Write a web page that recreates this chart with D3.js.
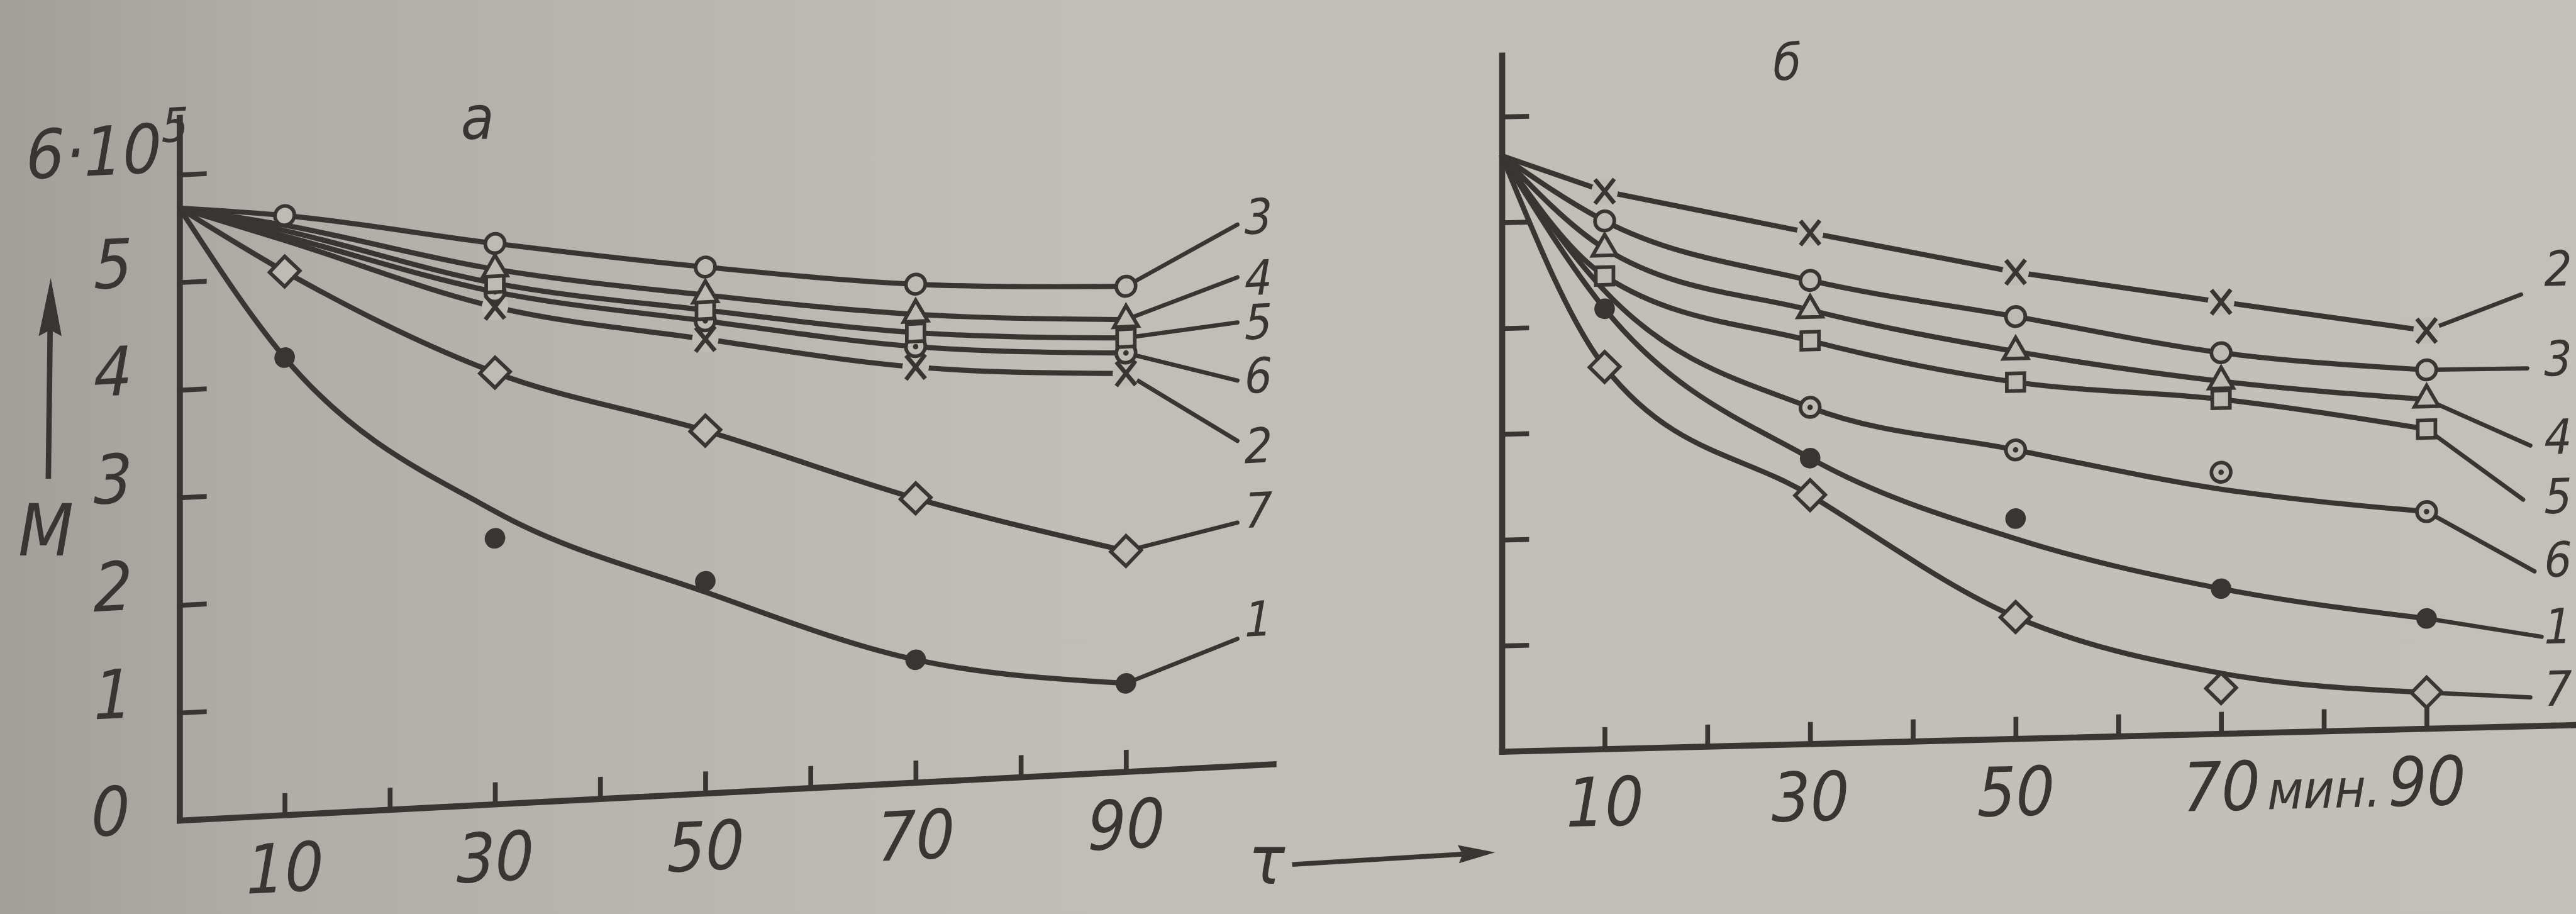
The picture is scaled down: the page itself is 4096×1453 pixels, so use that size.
<!DOCTYPE html>
<html>
<head>
<meta charset="utf-8">
<script src="https://cdn.jsdelivr.net/npm/d3@7"></script>
<style>
  html, body { margin: 0; padding: 0; background: #bbb8b2; }
  svg { display: block; }
  .lbl { font-family: "Liberation Sans Narrow", "DejaVu Sans Condensed", "DejaVu Sans", sans-serif; font-style: italic; font-size: 112px; }
  .cl { font-family: "Liberation Sans Narrow", "DejaVu Sans Condensed", "DejaVu Sans", sans-serif; font-style: italic; font-size: 80px; }
</style>
</head>
<body>
<svg id="chart" width="4096" height="1453"></svg>
<script>
// time of sampling, min
const times = [0, 10, 30, 50, 70, 90];
const t10 = [10, 30, 50, 70, 90];
const t30 = [30, 50, 70, 90];
const xTicks = [10, 20, 30, 40, 50, 60, 70, 80, 90];
const xTickLabelsA = ['10', '', '30', '', '50', '', '70', '', '90'];
const xTickLabelsB = ['10', '', '30', '', '50', '', '70', 'мин.', '90'];
const yTicks = [1, 2, 3, 4, 5, 6];
const yTickLabels = ['1', '2', '3', '4', '5', ''];

// panel а : M, units of 10^5 (curve read at times)
const a1 = [5.69, 4.25, 2.72, 1.87, 1.14, 0.82];
const a1Pts = [4.25, 2.47, 1.97, 1.14, 0.82];
const a2 = [5.69, 5.34, 4.62, 4.22, 3.86, 3.70];
const a3 = [5.69, 5.57, 5.21, 4.89, 4.63, 4.51];
const a4 = [5.69, 5.48, 4.97, 4.63, 4.35, 4.20];
const a5 = [5.69, 5.43, 4.84, 4.49, 4.18, 4.03];
const a6 = [5.69, 5.38, 4.76, 4.39, 4.05, 3.89];
const a7 = [5.69, 5.05, 4.01, 3.37, 2.64, 2.05];

// panel б
const b1 = [5.63, 4.16, 2.70, 1.89, 1.37, 1.04];
const b1Pts = [4.16, 2.70, 2.08, 1.37, 1.04];
const b2 = [5.63, 5.27, 4.83, 4.41, 4.08, 3.76];
const b3 = [5.63, 4.99, 4.38, 3.99, 3.60, 3.39];
const b4 = [5.63, 4.73, 4.10, 3.66, 3.33, 3.11];
const b5 = [5.63, 4.47, 3.81, 3.37, 3.16, 2.83];
const b6 = [5.63, 4.33, 3.18, 2.73, 2.31, 2.05];
const b6Pts = [3.18, 2.73, 2.47, 2.05];
const b7 = [5.63, 3.61, 2.35, 1.15, 0.57, 0.34];
const b7Pts = [3.61, 2.35, 1.15, 0.43, 0.34];

// curve number labels: leader end [t, M] and label [t, M]
const aNames = ['3', '4', '5', '6', '2', '7', '1'];
const aLeadEnd = [[100.6, 5.03], [100.6, 4.54], [100.6, 4.12], [100.6, 3.58], [100.6, 3.02], [100.6, 2.26], [100.6, 1.18]];
const aLabelAt = [[102.6, 5.10], [102.6, 4.53], [102.6, 4.12], [102.6, 3.62], [102.6, 2.97], [102.6, 2.37], [102.6, 1.36]];
const bNames = ['2', '3', '4', '5', '6', '1', '7'];
const bLeadEnd = [[99.2, 4.08], [99.8, 3.38], [100.1, 2.65], [99.4, 2.14], [100.5, 1.46], [101.2, 0.84], [100.1, 0.27]];
const bLabelAt = [[102.8, 4.32], [102.8, 3.47], [102.8, 2.73], [102.8, 2.17], [102.8, 1.57], [102.8, 0.94], [102.8, 0.35]];

const ink = '#383633';
const paper = '#bebbb5';

const svg = d3.select('#chart');
const grad = svg.append('defs').append('linearGradient').attr('id', 'paper')
  .attr('x1', 0).attr('x2', 1).attr('y1', 0).attr('y2', 0);
[[0, '#a19f9a'], [0.1, '#b0ada8'], [0.4, '#c1beb8'], [1, '#c3c0ba']]
  .forEach(s => grad.append('stop').attr('offset', s[0]).attr('stop-color', s[1]));
svg.append('rect').attr('width', 4096).attr('height', 1453).attr('fill', 'url(#paper)');

const root = svg.append('g').attr('transform', 'scale(0.961)');

const marks = {
  dot: g => g.append('circle').attr('r', 17).attr('fill', ink),
  circle: g => g.append('circle').attr('r', 16).attr('fill', paper).attr('stroke', ink).attr('stroke-width', 6),
  cdot: g => {
    g.append('circle').attr('r', 16).attr('fill', paper).attr('stroke', ink).attr('stroke-width', 6);
    g.append('circle').attr('r', 4.5).attr('fill', ink);
  },
  triangle: g => g.append('path').attr('d', d3.symbol(d3.symbolTriangle, 700)())
    .attr('fill', paper).attr('stroke', ink).attr('stroke-width', 6),
  square: g => g.append('path').attr('d', d3.symbol(d3.symbolSquare, 850)())
    .attr('fill', paper).attr('stroke', ink).attr('stroke-width', 6),
  diamond: g => g.append('path').attr('d', d3.symbol(d3.symbolSquare, 1250)()).attr('transform', 'rotate(45)')
    .attr('fill', paper).attr('stroke', ink).attr('stroke-width', 6),
  cross: g => {
    g.append('circle').attr('r', 22).attr('fill', paper);
    g.append('path').attr('d', 'M-16,-20L16,20M16,-20L-16,20').attr('stroke', ink).attr('stroke-width', 7).attr('fill', 'none');
  }
};

function drawPanel(p) {
  const x = d3.scaleLinear().domain([0, p.tEnd]).range([0, p.tEnd * p.pxMin]);
  const y = d3.scaleLinear().domain([0, p.mTop]).range([0, -p.mTop * p.pxUnit]);
  const g = root.append('g')
    .attr('transform', `translate(${p.x0},${p.y0}) matrix(1,${p.k},0,1,0,0)`);

  const xAxis = g.append('g').call(d3.axisBottom(x).tickValues(xTicks)
    .tickSizeInner(-36).tickSizeOuter(0).tickFormat((d, i) => p.xLabels[i]));
  const yAxis = g.append('g').call(d3.axisLeft(y).tickValues(yTicks)
    .tickSizeInner(-45).tickSizeOuter(0).tickFormat((d, i) => p.yLabels ? yTickLabels[i] : ''));
  [xAxis, yAxis].forEach(a => {
    a.attr('color', ink);
    a.select('.domain').attr('stroke-width', 10).attr('stroke-linecap', 'square');
    a.selectAll('.tick line').attr('stroke-width', 8);
    a.selectAll('.tick text').attr('class', 'lbl');
  });
  xAxis.selectAll('.tick text').attr('y', 127).attr('dy', null)
    .filter(d => d === 80).style('font-size', '88px');
  yAxis.selectAll('.tick text').attr('x', -110).attr('dy', 3).attr('text-anchor', 'middle');

  const line = d3.line().x((d, i) => x(times[i])).y(d => y(d));

  p.series.forEach(s => {
    g.append('path').datum(s.line)
      .attr('d', line.curve(s.straight ? d3.curveLinear : d3.curveMonotoneX))
      .attr('fill', 'none').attr('stroke', ink).attr('stroke-width', 8.5).attr('stroke-linecap', 'round');
  });

  // leaders to curve numbers
  p.series.forEach(s => {
    const i = p.names.indexOf(s.id);
    const last = s.line[s.line.length - 1];
    g.append('line')
      .attr('x1', x(90)).attr('y1', y(last))
      .attr('x2', x(p.leadEnd[i][0])).attr('y2', y(p.leadEnd[i][1]))
      .attr('stroke', ink).attr('stroke-width', 7).attr('stroke-linecap', 'round');
    g.append('text').attr('class', 'cl').attr('fill', ink).attr('text-anchor', 'middle')
      .attr('x', x(p.labelAt[i][0])).attr('y', y(p.labelAt[i][1])).attr('dy', '0.36em')
      .text(s.id);
  });

  p.series.forEach(s => {
    s.markT.forEach((t, j) => {
      const m = s.markM ? s.markM[j] : s.line[times.indexOf(t)];
      const mg = g.append('g').attr('transform', `translate(${x(t)},${y(m)})`);
      marks[s.mark](mg);
    });
  });
  return { g, x, y };
}

const pa = drawPanel({
  x0: 297, y0: 1357, pxMin: 17.4, pxUnit: 178, k: -0.0515, tEnd: 104, mTop: 6.53,
  xLabels: xTickLabelsA, yLabels: true,
  names: aNames, leadEnd: aLeadEnd, labelAt: aLabelAt,
  series: [
    { id: '1', line: a1, markT: t10, markM: a1Pts, mark: 'dot' },
    { id: '7', line: a7, markT: t10, mark: 'diamond' },
    { id: '2', line: a2, markT: t30, mark: 'cross' },
    { id: '6', line: a6, markT: t30, mark: 'cdot' },
    { id: '5', line: a5, markT: t30, mark: 'square' },
    { id: '4', line: a4, markT: t30, mark: 'triangle' },
    { id: '3', line: a3, markT: t10, mark: 'circle' }
  ]
});

// "0" and "6·10^5" on the left axis
pa.g.append('text').attr('class', 'lbl').attr('fill', ink).attr('text-anchor', 'middle')
  .attr('x', -114).attr('y', 19).text('0');
const topLabel = pa.g.append('text').attr('class', 'lbl').attr('fill', ink)
  .attr('x', -254).attr('y', pa.y(6) - 6).text('6·10');
topLabel.append('tspan').attr('dy', -49).style('font-size', '78px').text('5');

drawPanel({
  x0: 2485, y0: 1243, pxMin: 17.0, pxUnit: 175, k: -0.0248, tEnd: 104.5, mTop: 6.58,
  xLabels: xTickLabelsB, yLabels: false,
  names: bNames, leadEnd: bLeadEnd, labelAt: bLabelAt,
  series: [
    { id: '7', line: b7, markT: t10, markM: b7Pts, mark: 'diamond' },
    { id: '1', line: b1, markT: t10, markM: b1Pts, mark: 'dot' },
    { id: '6', line: b6, markT: t30, markM: b6Pts, mark: 'cdot' },
    { id: '5', line: b5, markT: t10, mark: 'square' },
    { id: '4', line: b4, markT: t10, mark: 'triangle' },
    { id: '3', line: b3, markT: t10, mark: 'circle' },
    { id: '2', line: b2, markT: t10, mark: 'cross', straight: true }
  ]
});

// panel letters
root.append('text').attr('class', 'lbl').attr('fill', ink).attr('text-anchor', 'middle')
  .style('font-size', '100px').attr('x', 790).attr('y', 230).text('а');
root.append('text').attr('class', 'lbl').attr('fill', ink).attr('text-anchor', 'middle')
  .style('font-size', '84px').attr('x', 2957).attr('y', 132).text('б');

// M with arrow
root.append('line').attr('x1', 80).attr('y1', 792).attr('x2', 83).attr('y2', 540)
  .attr('stroke', ink).attr('stroke-width', 9);
root.append('path').attr('d', 'M84,460L102,556L83,546L64,556Z').attr('fill', ink);
root.append('text').attr('class', 'lbl').attr('fill', ink).attr('text-anchor', 'middle')
  .style('font-size', '118px').attr('x', 76).attr('y', 919).text('M');

// time arrow
root.append('text').attr('class', 'lbl').attr('fill', ink).attr('text-anchor', 'middle')
  .style('font-size', '112px').attr('x', 2096).attr('y', 1462).text('τ');
root.append('line').attr('x1', 2138).attr('y1', 1430).attr('x2', 2420).attr('y2', 1413)
  .attr('stroke', ink).attr('stroke-width', 8);
root.append('path').attr('d', 'M2474,1410L2412,1398L2420,1413L2414,1428Z').attr('fill', ink);
</script>
</body>
</html>
